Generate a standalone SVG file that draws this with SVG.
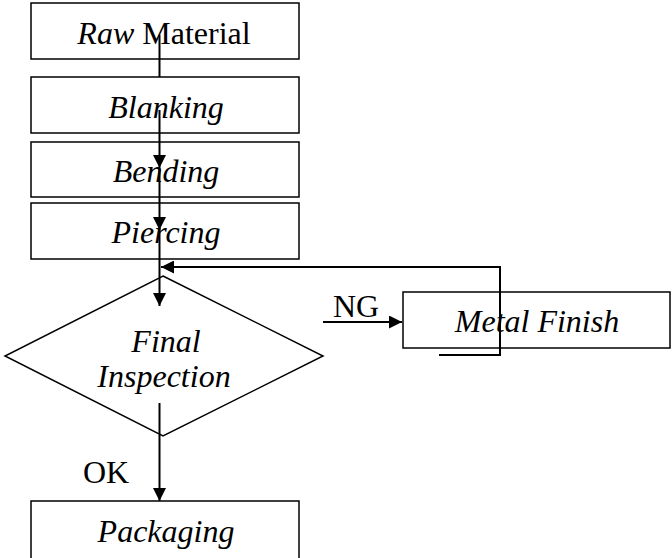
<svg xmlns="http://www.w3.org/2000/svg" width="672" height="558" viewBox="0 0 672 558">
  <style>
    .box { fill: #fff; stroke: #000; stroke-width: 1.5; }
    .lbl { font-family: "Liberation Serif", "Times New Roman", serif; font-size: 32px; fill: #000; }
    .it { font-style: italic; }
    .wire { fill: none; stroke: #000; stroke-width: 2; }
  </style>
  <defs>
    <marker id="head" viewBox="0 0 13 13" refX="13" refY="6.5" markerWidth="13" markerHeight="13" markerUnits="userSpaceOnUse" orient="auto">
      <path d="M0,0 L13,6.5 L0,13 Z" fill="#000"/>
    </marker>
  </defs>

  <rect width="672" height="558" fill="#fff"/>

  <g id="raw-material">
    <rect class="box" x="31" y="3" width="268" height="56"/>
    <text class="lbl" x="164" y="44" text-anchor="middle"><tspan class="it">Raw</tspan> Material</text>
  </g>
  <g id="blanking">
    <rect class="box" x="31" y="77" width="268" height="56"/>
    <text class="lbl it" x="166" y="118" text-anchor="middle">Blanking</text>
  </g>
  <g id="bending">
    <rect class="box" x="31" y="142" width="268" height="55"/>
    <text class="lbl it" x="166" y="182" text-anchor="middle">Bending</text>
  </g>
  <g id="piercing">
    <rect class="box" x="31" y="203" width="268" height="56"/>
    <text class="lbl it" x="166" y="243" text-anchor="middle">Piercing</text>
  </g>
  <g id="final-inspection">
    <polygon class="box" points="163,276 323,356 163,436 5,356"/>
    <text class="lbl it" x="166" y="352" text-anchor="middle">Final</text>
    <text class="lbl it" x="164" y="387" text-anchor="middle">Inspection</text>
  </g>
  <g id="metal-finish">
    <rect class="box" x="403" y="292" width="267" height="56"/>
    <text class="lbl it" x="537" y="332" text-anchor="middle">Metal Finish</text>
  </g>
  <g id="packaging">
    <rect class="box" x="31" y="501" width="268" height="60"/>
    <text class="lbl it" x="166" y="542" text-anchor="middle">Packaging</text>
  </g>

  <g id="connectors">
    <!-- main flow down the column -->
    <line class="wire" x1="159.5" y1="35" x2="159.5" y2="77"/>
    <line class="wire" x1="159.5" y1="110" x2="159.5" y2="168" marker-end="url(#head)"/>
    <line class="wire" x1="159.5" y1="168" x2="159.5" y2="230" marker-end="url(#head)"/>
    <line class="wire" x1="159.5" y1="230" x2="159.5" y2="306" marker-end="url(#head)"/>
    <!-- OK branch -->
    <line class="wire" x1="159.5" y1="403" x2="159.5" y2="501" marker-end="url(#head)"/>
    <text class="lbl" x="83" y="483">OK</text>
    <!-- NG branch -->
    <line class="wire" x1="323" y1="322" x2="402" y2="322" marker-end="url(#head)"/>
    <text class="lbl" x="333" y="317">NG</text>
    <!-- rework loop back to inspection -->
    <polyline class="wire" points="439,355 500,355 500,267 161,267" marker-end="url(#head)"/>
  </g>
</svg>
